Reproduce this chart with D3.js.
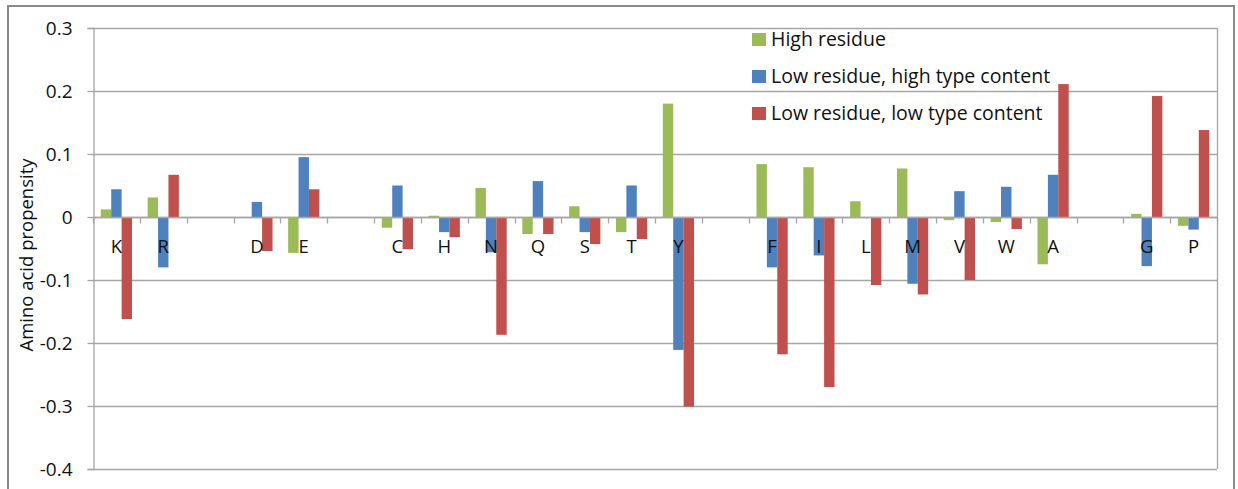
<!DOCTYPE html>
<html><head><meta charset="utf-8">
<script src="https://cdn.jsdelivr.net/npm/d3@7"></script>
<style>body{margin:0;background:#fff;} svg{display:block;}</style>
</head><body>
<svg id="c" width="1238" height="489"></svg>
<script>
const categories = ["K","R","","D","E","","C","H","N","Q","S","T","Y","","F","I","L","M","V","W","A","","G","P"];
const seriesNames = ["High residue","Low residue, high type content","Low residue, low type content"];
const highResidue = [0.012,0.031,null,0,-0.057,null,-0.017,0.002,0.046,-0.027,0.017,-0.024,0.180,null,0.084,0.079,0.025,0.077,-0.005,-0.008,-0.075,null,0.005,-0.014];
const lowHighType = [0.044,-0.080,null,0.024,0.095,null,0.050,-0.024,-0.056,0.057,-0.024,0.050,-0.211,null,-0.080,-0.061,0,-0.106,0.041,0.048,0.067,null,-0.078,-0.020];
const lowLowType  = [-0.162,0.067,null,-0.054,0.044,null,-0.051,-0.032,-0.187,-0.027,-0.043,-0.035,-0.301,null,-0.218,-0.270,-0.108,-0.123,-0.100,-0.019,0.211,null,0.192,0.138];
const yTicks = [0.3,0.2,0.1,0,-0.1,-0.2,-0.3,-0.4];
const yTickLabels = ["0.3","0.2","0.1","0","-0.1","-0.2","-0.3","-0.4"];
const colors = ["#9BBB59","#4F81BD","#C0504D"];
const series = [highResidue, lowHighType, lowLowType];

const svg = d3.select("#c");
const font = "'Open Sans', sans-serif";
const L = 93, R = 1217, T = 28, B = 469;

// outer chart border
svg.append("rect").attr("x",8).attr("y",6).attr("width",1226).attr("height",500)
  .attr("fill","#fff").attr("stroke","#8a8a8a").attr("stroke-width",2);

const x = d3.scaleBand().domain(d3.range(categories.length)).range([L,R]).paddingInner(0).paddingOuter(0);
const y = d3.scaleLinear().domain([-0.4,0.3]).range([B,T]);
const bw = x.bandwidth()/4.5;

// gridlines
svg.append("g").selectAll("line").data(yTicks).join("line")
  .attr("x1",L).attr("x2",R).attr("y1",d=>Math.round(y(d))+0.5).attr("y2",d=>Math.round(y(d))+0.5)
  .attr("stroke","#a6a6a6").attr("stroke-width",1.3);
// right border of plot
svg.append("line").attr("x1",R+0.5).attr("x2",R+0.5).attr("y1",T).attr("y2",B).attr("stroke","#a6a6a6").attr("stroke-width",1.3);

// y axis
const yAxis = d3.axisLeft(y).tickValues(yTicks).tickSize(6).tickFormat((d,i)=>yTickLabels[i]);
const ga = svg.append("g").attr("transform",`translate(${L+0.5},0)`).call(yAxis);
ga.select(".domain").attr("stroke","#a6a6a6").attr("stroke-width",1.3);
ga.selectAll(".tick line").attr("stroke","#a6a6a6").attr("stroke-width",1.3);
ga.selectAll(".tick text").attr("font-family",font).attr("font-size",19).attr("fill","#111").attr("x",-21).attr("dy","0.34em");

// bars
series.forEach((s,si)=>{
  svg.append("g").selectAll("rect").data(s.map((v,i)=>({v,i})).filter(d=>d.v!==null && d.v!==0)).join("rect")
    .attr("x",d=>x(d.i)+x.bandwidth()/2-1.5*bw+si*bw)
    .attr("width",bw)
    .attr("y",d=>Math.min(y(d.v),y(0)))
    .attr("height",d=>Math.abs(y(d.v)-y(0)))
    .attr("fill",colors[si]);
});

// category axis at zero
const y0 = Math.round(y(0))+0.5;
svg.append("line").attr("x1",L).attr("x2",R).attr("y1",y0).attr("y2",y0).attr("stroke","#a6a6a6").attr("stroke-width",1.3);
svg.append("g").selectAll("line").data(d3.range(categories.length+1)).join("line")
  .attr("x1",i=>Math.round(L+i*x.step())+0.5).attr("x2",i=>Math.round(L+i*x.step())+0.5)
  .attr("y1",y0).attr("y2",y0+6).attr("stroke","#a6a6a6").attr("stroke-width",1.3);
svg.append("g").selectAll("text").data(categories.map((c,i)=>({c,i}))).join("text")
  .attr("x",d=>x(d.i)+x.bandwidth()/2).attr("y",253)
  .attr("text-anchor","middle").attr("font-family",font).attr("font-size",18.5).attr("fill","#111")
  .text(d=>d.c);

// y title
svg.append("text").attr("transform","translate(33,255) rotate(-90)").attr("text-anchor","middle")
  .attr("font-family",font).attr("font-size",18.5).attr("fill","#111").text("Amino acid propensity");

// legend
const lg = svg.append("g").selectAll("g").data(seriesNames).join("g")
  .attr("transform",(d,i)=>`translate(752,${46+i*37})`);
lg.append("rect").attr("y",-13).attr("width",14).attr("height",13).attr("fill",(d,i)=>colors[i]);
lg.append("text").attr("x",19).attr("y",0).attr("font-family",font).attr("font-size",19.5).attr("fill","#111").text(d=>d);
</script>
</body></html>
